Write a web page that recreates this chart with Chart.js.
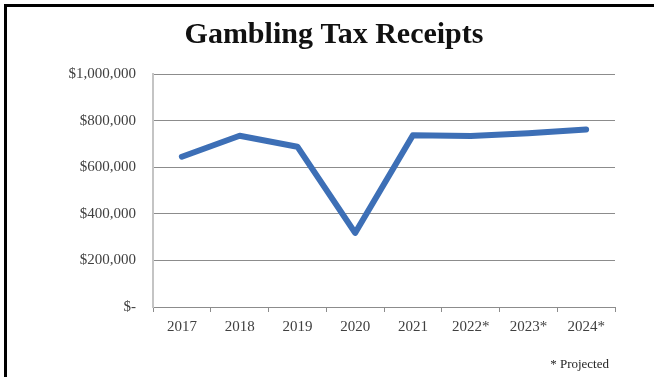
<!DOCTYPE html>
<html>
<head>
<meta charset="utf-8">
<script src="https://cdn.jsdelivr.net/npm/chart.js@4/dist/chart.umd.min.js"></script>
<style>
  html, body { margin: 0; padding: 0; background: #ffffff; }
  #wrap { position: relative; width: 654px; height: 377px; }
</style>
</head>
<body>
<div id="wrap"><canvas id="chart" width="654" height="377"></canvas></div>
<script>
// Gambling tax receipts by year (2022-2024 are projections)
const years = ['2017', '2018', '2019', '2020', '2021', '2022*', '2023*', '2024*'];
const receipts = [645000, 735000, 688000, 318000, 737000, 734000, 746000, 762000];
const yTicks = [0, 200000, 400000, 600000, 800000, 1000000];
const footnote = '* Projected';

const serif = '"Liberation Serif", "DejaVu Serif", serif';

function dollars(v) {
  if (v === 0) return '$-';
  return '$' + v.toLocaleString('en-US');
}

// Black frame on the top and left of the figure, plus the footnote
const framePlugin = {
  id: 'frame',
  beforeDraw(chart) {
    const ctx = chart.ctx;
    ctx.save();
    ctx.fillStyle = '#ffffff';
    ctx.fillRect(0, 0, chart.width, chart.height);
    ctx.fillStyle = '#000000';
    ctx.fillRect(4, 4, chart.width - 4, 3);
    ctx.fillRect(4, 4, 3, chart.height - 4);
    ctx.restore();
  },
  afterDraw(chart) {
    const ctx = chart.ctx;
    ctx.save();
    ctx.font = '13px ' + serif;
    ctx.fillStyle = '#262626';
    ctx.textAlign = 'right';
    ctx.textBaseline = 'middle';
    ctx.fillText(footnote, 609, 365);
    ctx.restore();
  }
};

new Chart(document.getElementById('chart'), {
  type: 'line',
  data: {
    labels: years,
    datasets: [{
      data: receipts,
      borderColor: '#3d6fb6',
      borderWidth: 6,
      borderCapStyle: 'round',
      borderJoinStyle: 'round',
      pointRadius: 0,
      tension: 0,
      fill: false
    }]
  },
  plugins: [framePlugin],
  options: {
    responsive: false,
    animation: false,
    devicePixelRatio: 1,
    layout: { padding: { left: 53, right: 39, top: 0, bottom: 0 } },
    plugins: {
      legend: { display: false },
      tooltip: { enabled: false },
      title: {
        display: true,
        text: 'Gambling Tax Receipts',
        color: '#111111',
        font: { family: serif, size: 30, weight: 'bold' },
        padding: { top: 17, bottom: 21 }
      }
    },
    scales: {
      x: {
        type: 'category',
        offset: true,
        grid: {
          offset: true,
          drawOnChartArea: false,
          drawTicks: true,
          tickLength: 5,
          color: '#8c8c8c'
        },
        border: { color: '#8c8c8c', width: 1 },
        ticks: {
          color: '#404040',
          font: { family: serif, size: 15 },
          padding: 6,
          maxRotation: 0,
          autoSkip: false
        },
        afterFit(scale) { scale.height = 70; }
      },
      y: {
        min: 0,
        max: 1000000,
        afterBuildTicks(scale) {
          scale.ticks = yTicks.map(v => ({ value: v }));
        },
        grid: {
          drawTicks: false,
          color: '#8c8c8c',
          lineWidth: 1
        },
        border: { color: '#c4c4c4', width: 2 },
        ticks: {
          color: '#404040',
          font: { family: serif, size: 15 },
          padding: 17,
          callback: (v) => dollars(v)
        },
        afterFit(scale) { scale.width = 100; }
      }
    }
  }
});
</script>
</body>
</html>
